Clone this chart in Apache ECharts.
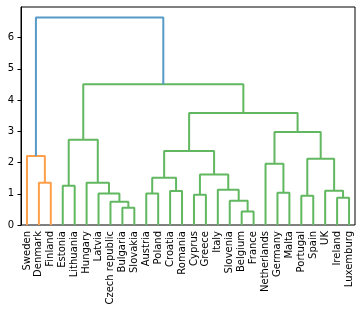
<!DOCTYPE html>
<html>
<head>
<meta charset="utf-8">
<script src="https://cdn.jsdelivr.net/npm/echarts@6/dist/echarts.min.js"></script>
<style>
html,body{margin:0;padding:0;background:#fff;}
#chart{width:362px;height:312px;}
</style>
</head>
<body>
<div id="chart"></div>
<script>
// Leaves in dendrogram order (left to right)
var leaves = ["Sweden","Denmark","Finland","Estonia","Lithuania","Hungary","Latvia","Czech republic","Bulgaria","Slovakia","Austria","Poland","Croatia","Romania","Cyprus","Greece","Italy","Slovenia","Belgium","France","Netherlands","Germany","Malta","Portugal","Spain","UK","Ireland","Luxemburg"];

// Linkage: [child A, child B, merge height]; ids >= leaves.length are earlier merges (28 + row index)
var merges = [
  [18, 19, 0.43],  // 28
  [8, 9, 0.55],    // 29
  [7, 29, 0.745],  // 30
  [17, 28, 0.78],  // 31
  [26, 27, 0.87],  // 32
  [23, 24, 0.94],  // 33
  [14, 15, 0.97],  // 34
  [6, 30, 1.01],   // 35
  [10, 11, 1.01],  // 36
  [21, 22, 1.03],  // 37
  [12, 13, 1.09],  // 38
  [25, 32, 1.10],  // 39
  [16, 31, 1.13],  // 40
  [3, 4, 1.26],    // 41
  [1, 2, 1.35],    // 42
  [5, 35, 1.35],   // 43
  [36, 38, 1.51],  // 44
  [34, 40, 1.62],  // 45
  [20, 37, 1.96],  // 46
  [33, 39, 2.12],  // 47
  [0, 42, 2.21],   // 48
  [44, 45, 2.37],  // 49
  [41, 43, 2.73],  // 50
  [46, 47, 2.98],  // 51
  [49, 51, 3.59],  // 52
  [50, 52, 4.51],  // 53
  [48, 53, 6.65]   // 54
];

var yTicks = [0, 1, 2, 3, 4, 5, 6];

var palette = ["#ff9f4a", "#61b861", "#e05d5e", "#a98dcd"];
var aboveColor = "#579ac7";

(function(){
  var n = leaves.length;
  var pos = {}, hgt = {};
  for (var i = 0; i < n; i++) { pos[i] = 5 + 10 * i; hgt[i] = 0; }
  merges.forEach(function(m, k){
    var id = n + k;
    pos[id] = (pos[m[0]] + pos[m[1]]) / 2;
    hgt[id] = m[2];
  });
  var maxH = Math.max.apply(null, merges.map(function(m){return m[2];}));
  var thr = 0.7 * maxH;
  var linkColor = {};
  var ci = 0;
  function paint(id, col){
    if (id < n) return;
    var m = merges[id - n];
    linkColor[id] = col;
    paint(m[0], col); paint(m[1], col);
  }
  function walk(id){
    if (id < n) return;
    var m = merges[id - n];
    if (m[2] < thr) { paint(id, palette[ci++ % palette.length]); return; }
    linkColor[id] = aboveColor;
    walk(m[0]); walk(m[1]);
  }
  walk(n + merges.length - 1);

  var series = merges.map(function(m, k){
    var id = n + k;
    return {
      type: 'line',
      xAxisIndex: 0,
      yAxisIndex: 0,
      showSymbol: false,
      symbol: 'none',
      silent: true,
      animation: false,
      lineStyle: { color: linkColor[id], width: 2 },
      data: [[pos[m[0]], hgt[m[0]]], [pos[m[0]], m[2]], [pos[m[1]], m[2]], [pos[m[1]], hgt[m[1]]]]
    };
  });

  var chart = echarts.init(document.getElementById('chart'), null, {renderer: 'canvas'});
  chart.setOption({
    animation: false,
    backgroundColor: '#fff',
    grid: { left: 21, right: 7, top: 7, bottom: 87, show: true, borderColor: '#000', borderWidth: 1, backgroundColor: 'transparent' },
    xAxis: [
      { type: 'value', min: 0, max: n * 10, show: false },
      { type: 'category', data: leaves, position: 'bottom', boundaryGap: true,
        axisLine: { show: false }, axisTick: { show: false }, splitLine: { show: false },
        axisLabel: { rotate: 90, interval: 0, margin: 6, fontSize: 10, color: '#000', fontFamily: 'DejaVu Sans' } }
    ],
    yAxis: {
      type: 'value', min: 0, max: maxH * 1.05,
      splitLine: { show: false },
      axisLine: { show: true, lineStyle: { color: '#000', width: 1 } },
      axisTick: { show: true, length: 3.5, lineStyle: { color: '#000', width: 1 }, customValues: yTicks },
      axisLabel: { margin: 7, fontSize: 10, color: '#000', fontFamily: 'DejaVu Sans', customValues: yTicks }
    },
    series: series
  });
})();
</script>
</body>
</html>
